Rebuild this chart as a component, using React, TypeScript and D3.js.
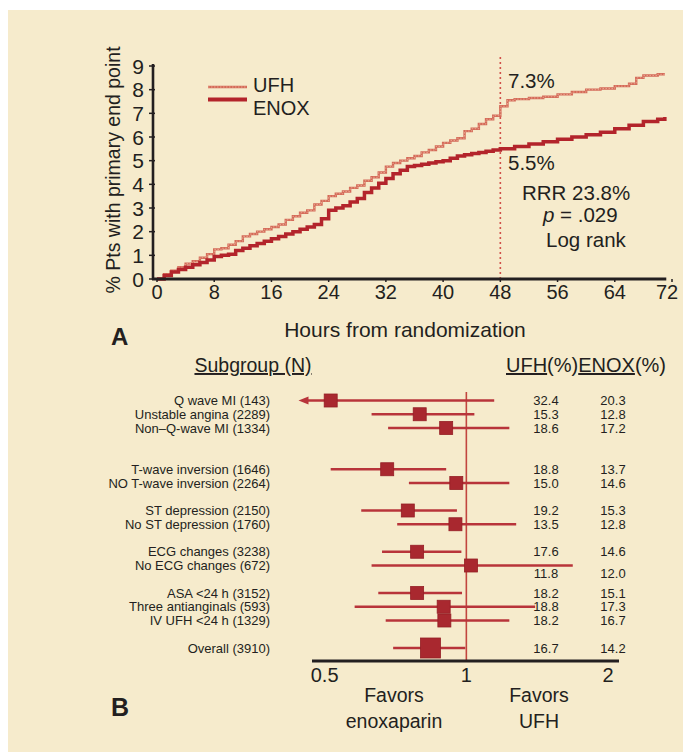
import { useEffect } from "react";
import * as d3 from "d3";

// panel A: Kaplan-Meier style cumulative event curves
const ufhHours = [0,1,2,3,4,5,6,7,8,9,10,11,12,13,14,15,16,17,18,19,20,21,22,23,24,25,26,27,28,29,30,31,32,33,34,35,36,37,38,39,40,41,42,43,44,45,46,47,48,49,50,52,54,56,58,60,62,64,66,67,68,70,71];
const ufhPct = [0,0.2,0.35,0.5,0.65,0.75,0.9,1.05,1.25,1.3,
  1.45,1.6,1.8,1.9,2.0,2.1,2.2,2.3,2.5,2.65,
  2.8,2.9,3.15,3.3,3.5,3.6,3.7,3.85,3.95,4.15,
  4.3,4.5,4.75,4.9,5.0,5.1,5.2,5.35,5.45,5.6,
  5.75,5.85,5.95,6.25,6.35,6.55,6.75,6.9,7.3,7.55,
  7.6,7.65,7.7,7.8,7.9,8.0,8.05,8.15,8.25,8.5,8.6,8.65,8.65];

const enoxHours = [0,1,2,3,4,5,6,7,8,9,10,11,12,13,14,15,16,17,18,19,20,21,22,23,24,25,26,27,28,29,30,31,32,33,34,35,36,37,38,39,40,41,42,43,44,45,46,47,48,50,52,54,56,58,60,62,64,66,68,70,71];
const enoxPct = [0,0.15,0.3,0.4,0.5,0.6,0.7,0.8,0.95,1.0,
  1.05,1.2,1.3,1.4,1.5,1.6,1.7,1.8,1.9,2.0,
  2.1,2.2,2.3,2.55,2.9,3.0,3.1,3.25,3.4,3.65,
  3.85,4.05,4.25,4.45,4.6,4.75,4.8,4.85,4.9,4.95,
  5.0,5.1,5.2,5.25,5.3,5.35,5.4,5.45,5.5,
  5.6,5.7,5.8,5.9,6.0,6.1,6.2,6.35,6.5,6.65,6.75,6.85];

const hourTicks = [0, 8, 16, 24, 32, 40, 48, 56, 64, 72];
const pctTicks = [0, 1, 2, 3, 4, 5, 6, 7, 8, 9];

// panel B: subgroup forest plot
const groups = [
  "Q wave MI (143)", "Unstable angina (2289)", "Non\u2013Q-wave MI (1334)",
  "T-wave inversion (1646)", "NO T-wave inversion (2264)",
  "ST depression (2150)", "No ST depression (1760)",
  "ECG changes (3238)", "No ECG changes (672)",
  "ASA <24 h (3152)", "Three antianginals (593)", "IV UFH <24 h (1329)",
  "Overall (3910)",
];
const slots = [0, 1, 2, 5, 6, 8, 9, 11, 12, 14, 15, 16, 18];
const valueSlots = [0, 1, 2, 5, 6, 8, 9, 11, 12.55, 14, 15, 16, 18];
const ratio = [0.515, 0.796, 0.906, 0.679, 0.952, 0.751, 0.948, 0.786, 1.023, 0.786, 0.895, 0.898, 0.839];
const lower = [0.44, 0.629, 0.682, 0.515, 0.755, 0.598, 0.713, 0.662, 0.629, 0.65, 0.579, 0.674, 0.699];
const upper = [1.146, 1.04, 1.234, 0.906, 1.234, 0.955, 1.276, 0.976, 1.683, 0.979, 1.4, 1.234, 0.995];
const ufhRate = ["32.4", "15.3", "18.6", "18.8", "15.0", "19.2", "13.5", "17.6", "11.8", "18.2", "18.8", "18.2", "16.7"];
const enoxRate = ["20.3", "12.8", "17.2", "13.7", "14.6", "15.3", "12.8", "14.6", "12.0", "15.1", "17.3", "16.7", "14.2"];
const ratioTicks = [0.5, 1, 2];

const FONT = "'Liberation Sans', Arial, Helvetica, sans-serif";
const INK = "#231f20";

export default function App() {
  useEffect(() => {
    document.body.style.margin = "0";
  }, []);

  const x = d3.scaleLinear().domain([0, 72]).range([157, 672]);
  const y = d3.scaleLinear().domain([0, 9]).range([279, 66]);

  const line = d3.line<number>()
    .x((h) => x(h))
    .curve(d3.curveStepAfter);
  const ufhPath = line.y((_, i) => y(ufhPct[i]))(ufhHours) || "";
  const enoxPath = line.y((_, i) => y(enoxPct[i]))(enoxHours) || "";

  const xF = d3.scaleLog().domain([0.47, 2.11]).range([312, 619]);
  const yF = d3.scaleLinear().domain([0, 18]).range([400.5, 648]);
  const axisY = 661;

  const red = "#b8343a";
  const sq = "#a9282f";

  return (
    <svg width={683} height={752} style={{ display: "block", fontFamily: FONT }}>
      <rect x={0} y={0} width={683} height={752} fill="#ffffff" />
      <rect x={8} y={10} width={675} height={742} fill="#f6ebcc" />

      {/* ---------- Panel A ---------- */}
      <line x1={x(48)} x2={x(48)} y1={57} y2={y(0)} stroke="#d0504a" strokeWidth={1.6} strokeDasharray="2 3" />

      <path d={ufhPath} fill="none" stroke="#d46a58" strokeWidth={2.4} />
      <path d={ufhPath} fill="none" stroke="#f2bea6" strokeWidth={0.7} strokeDasharray="1.5 1.5" />
      <path d={enoxPath} fill="none" stroke="#b3242b" strokeWidth={3.5} />

      {/* axes */}
      <line x1={x(0) - 4} x2={x(0) - 4} y1={y(9) - 2} y2={y(0) + 1} stroke={INK} strokeWidth={2.6} />
      <line x1={x(0) - 5} x2={x(71.2)} y1={y(0)} y2={y(0)} stroke={INK} strokeWidth={2.8} />
      {pctTicks.map((t) => (
        <g key={"yt" + t}>
          <line x1={x(0) - 8} x2={x(0) - 2} y1={y(t)} y2={y(t)} stroke={INK} strokeWidth={1.5} />
          <text x={138} y={y(t)} dy="0.36em" textAnchor="middle" fontSize={21} fill={INK}>{t}</text>
        </g>
      ))}
      {hourTicks.map((t) => (
        <g key={"xt" + t}>
          <line x1={x(t)} x2={x(t)} y1={y(0)} y2={y(0) + 3} stroke={INK} strokeWidth={1.5} />
          <text x={x(t) - (t === 72 ? 5 : 0)} y={299} textAnchor="middle" fontSize={20} fill={INK}>{t}</text>
        </g>
      ))}
      <text x={405} y={337} textAnchor="middle" fontSize={21} fill={INK}>Hours from randomization</text>
      <text transform="translate(119.5,170) rotate(-90)" textAnchor="middle" fontSize={19.5} fill={INK}>
        % Pts with primary end point
      </text>
      <text x={111} y={345} fontSize={24} fontWeight="bold" fill={INK}>A</text>

      {/* legend */}
      <line x1={208} x2={247} y1={87} y2={87} stroke="#d46a58" strokeWidth={2.4} />
      <line x1={208} x2={247} y1={87} y2={87} stroke="#f2bea6" strokeWidth={0.7} strokeDasharray="1.5 1.5" />
      <line x1={208} x2={247} y1={99.5} y2={99.5} stroke="#b3242b" strokeWidth={3.8} />
      <text x={253} y={92} fontSize={20} fill={INK}>UFH</text>
      <text x={253} y={115} fontSize={20} fill={INK}>ENOX</text>

      {/* annotations */}
      <text x={508} y={88} fontSize={20.5} fill={INK}>7.3%</text>
      <text x={508} y={170} fontSize={20.5} fill={INK}>5.5%</text>
      <text x={522} y={200} fontSize={20.5} fill={INK}>RRR 23.8%</text>
      <text x={543} y={222} fontSize={20.5} fill={INK}>
        <tspan fontStyle="italic">p</tspan> = .029
      </text>
      <text x={546} y={247} fontSize={20.5} fill={INK}>Log rank</text>

      {/* ---------- Panel B ---------- */}
      <text x={253} y={372} textAnchor="middle" fontSize={19.5} fill={INK} textDecoration="underline">Subgroup (N)</text>
      <text x={506} y={372} fontSize={20} fill={INK}>
        <tspan textDecoration="underline">UFH</tspan>
        <tspan>(%)</tspan>
        <tspan textDecoration="underline">ENOX</tspan>
        <tspan>(%)</tspan>
      </text>

      <line x1={xF(1)} x2={xF(1)} y1={392} y2={axisY} stroke="#c2453f" strokeWidth={1.6} />

      {groups.map((g, i) => {
        const cy = yF(slots[i]);
        const vy = yF(valueSlots[i]);
        const overall = i === groups.length - 1;
        const s = overall ? 20 : 13;
        const arrow = lower[i] < xF.domain()[0];
        return (
          <g key={g}>
            <text x={270} y={cy} dy="0.35em" textAnchor="end" fontSize={13} fill={INK}>{g}</text>
            <line x1={xF(lower[i]) + (arrow ? 6 : 0)} x2={xF(upper[i])} y1={cy} y2={cy} stroke={red} strokeWidth={2.6} />
            {arrow && (
              <path
                d={`M${xF(lower[i])},${cy} L${xF(lower[i]) + 10},${cy - 4} L${xF(lower[i]) + 10},${cy + 4} Z`}
                fill={red}
              />
            )}
            <rect x={xF(ratio[i]) - s / 2} y={cy - s / 2} width={s} height={s} fill={sq} stroke="#951e25" strokeWidth={0.8} />
            <text x={546} y={vy} dy="0.35em" textAnchor="middle" fontSize={13} fill={INK}>{ufhRate[i]}</text>
            <text x={613} y={vy} dy="0.35em" textAnchor="middle" fontSize={13} fill={INK}>{enoxRate[i]}</text>
          </g>
        );
      })}

      <line x1={xF(0.47)} x2={xF(2.11)} y1={axisY} y2={axisY} stroke={INK} strokeWidth={3} />
      {ratioTicks.map((t) => (
        <text key={"rt" + t} x={xF(t)} y={682} textAnchor="middle" fontSize={20} fill={INK}>{t}</text>
      ))}
      <text x={394} y={702} textAnchor="middle" fontSize={19.5} fill={INK}>Favors</text>
      <text x={394} y={728} textAnchor="middle" fontSize={19.5} fill={INK}>enoxaparin</text>
      <text x={539} y={702} textAnchor="middle" fontSize={19.5} fill={INK}>Favors</text>
      <text x={539} y={728} textAnchor="middle" fontSize={19.5} fill={INK}>UFH</text>
      <text x={111} y={716} fontSize={25} fontWeight="bold" fill={INK}>B</text>
    </svg>
  );
}
